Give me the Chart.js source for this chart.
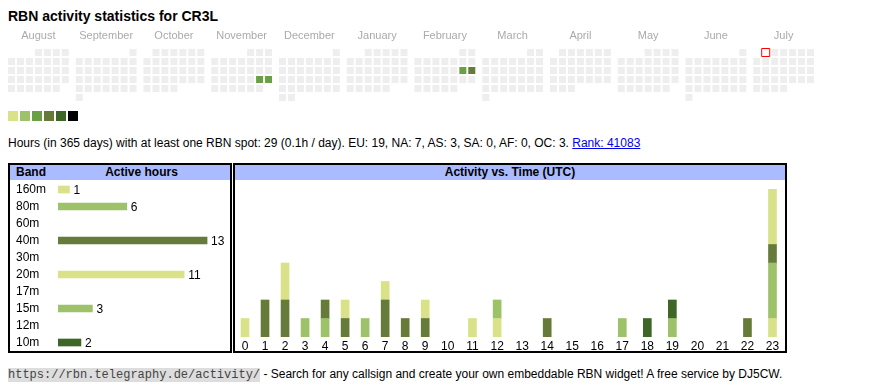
<!DOCTYPE html>
<html>
<head>
<meta charset="utf-8">
<script src="https://cdn.jsdelivr.net/npm/chart.js@4/dist/chart.umd.min.js"></script>
<style>
    body { margin: 0; width: 870px; height: 390px; position: relative; overflow: hidden; background: #fff;
           font-family: "Liberation Sans", Arial, sans-serif; color: #000; }
    #title { position: absolute; left: 8px; top: 8px; font-size: 14px; font-weight: bold; line-height: 16px; }
    #cal { position: absolute; left: 0; top: 25px; }
    #legend { position: absolute; left: 8px; top: 111px; height: 10px; }
    #legend span { float: left; width: 10px; height: 10px; margin-right: 2px; }
    #stats { position: absolute; left: 8px; top: 136px; font-size: 12px; line-height: 14px; white-space: nowrap; }
    #stats a { color: #0000ee; text-decoration: underline; }
    .box { position: absolute; top: 163px; height: 186px; border: 2px solid #000; }
    #bandBox { left: 8px; width: 220px; }
    #hourBox { left: 233px; width: 550px; }
    .hdr { position: relative; height: 15px; background: #aabbff; font-size: 12px; font-weight: bold; line-height: 15px; }
    .hdr span { position: absolute; top: 0; }
    .box canvas { display: block; }
    #footer { position: absolute; left: 8px; top: 367px; font-size: 12px; line-height: 15px; white-space: nowrap; }
    #footer code { font-family: "Liberation Mono", monospace; font-size: 12px; background: #dddddd; color: #444; }
</style>
</head>
<body>
<div id="title">RBN activity statistics for CR3L</div>
<canvas id="cal" width="870" height="80"></canvas>
<div id="legend"></div>
<div id="stats">Hours (in 365 days) with at least one RBN spot: 29 (0.1h / day). EU: 19, NA: 7, AS: 3, SA: 0, AF: 0, OC: 3. <a href="#">Rank: 41083</a></div>
<div class="box" id="bandBox">
    <div class="hdr"><span style="left:6px">Band</span><span style="left:43px;width:177px;text-align:center">Active hours</span></div>
    <canvas id="bandChart" width="220" height="171"></canvas>
</div>
<div class="box" id="hourBox">
    <div class="hdr" style="text-align:center">Activity vs. Time (UTC)</div>
    <canvas id="hourChart" width="550" height="171"></canvas>
</div>
<div id="footer"><code>https://rbn.telegraphy.de/activity/</code> - Search for any callsign and create your own embeddable RBN widget! A free service by DJ5CW.</div>

<script>
// calendar
const monthNames = ["August", "September", "October", "November", "December", "January",
                    "February", "March", "April", "May", "June", "July"];
const firstYear = 2024;
const firstMonth = 7; // August (0-based)
const activeDays = ["2024-11-23", "2024-11-24", "2025-02-15", "2025-02-16"];
const activeDayHours = [7, 7, 6, 9];
const today = "2025-07-01";
const levelColors = ["#d9e288", "#9dc26a", "#6aa044", "#667b3a", "#3d6627", "#000000"];
const levelLimits = [2, 4, 8, 12, 16];

// bands
const bands = ["160m", "80m", "60m", "40m", "30m", "20m", "17m", "15m", "12m", "10m"];
const bandColors = ["#d9e288", "#9dc26a", "#6aa044", "#667b3a", "#3d6627",
                    "#d9e288", "#6aa044", "#9dc26a", "#667b3a", "#3d6627"];

// hours 0..23 UTC, per band
const hourLabels = ["0", "1", "2", "3", "4", "5", "6", "7", "8", "9", "10", "11",
                    "12", "13", "14", "15", "16", "17", "18", "19", "20", "21", "22", "23"];
const hours160 = [0, 0, 0, 0, 0, 0, 0, 0, 0, 0, 0, 0, 0, 0, 0, 0, 0, 0, 0, 0, 0, 0, 0, 1];
const hours80  = [0, 0, 0, 1, 1, 0, 1, 0, 0, 0, 0, 0, 0, 0, 0, 0, 0, 0, 0, 0, 0, 0, 0, 3];
const hours60  = [0, 0, 0, 0, 0, 0, 0, 0, 0, 0, 0, 0, 0, 0, 0, 0, 0, 0, 0, 0, 0, 0, 0, 0];
const hours40  = [0, 2, 2, 0, 1, 1, 0, 2, 1, 1, 0, 0, 0, 0, 1, 0, 0, 0, 0, 0, 0, 0, 1, 1];
const hours30  = [0, 0, 0, 0, 0, 0, 0, 0, 0, 0, 0, 0, 0, 0, 0, 0, 0, 0, 0, 0, 0, 0, 0, 0];
const hours20  = [1, 0, 2, 0, 0, 1, 0, 1, 0, 1, 0, 1, 1, 0, 0, 0, 0, 0, 0, 0, 0, 0, 0, 3];
const hours17  = [0, 0, 0, 0, 0, 0, 0, 0, 0, 0, 0, 0, 0, 0, 0, 0, 0, 0, 0, 0, 0, 0, 0, 0];
const hours15  = [0, 0, 0, 0, 0, 0, 0, 0, 0, 0, 0, 0, 1, 0, 0, 0, 0, 1, 0, 1, 0, 0, 0, 0];
const hours12  = [0, 0, 0, 0, 0, 0, 0, 0, 0, 0, 0, 0, 0, 0, 0, 0, 0, 0, 0, 0, 0, 0, 0, 0];
const hours10  = [0, 0, 0, 0, 0, 0, 0, 0, 0, 0, 0, 0, 0, 0, 0, 0, 0, 0, 1, 1, 0, 0, 0, 0];
const bandHours = [hours160, hours80, hours60, hours40, hours30, hours20, hours17, hours15, hours12, hours10];

const FONT = '"Liberation Sans", Arial, sans-serif';
Chart.defaults.font.family = FONT;
Chart.defaults.animation = false;

// legend swatches
const legendDiv = document.getElementById("legend");
levelColors.forEach(function (c) {
    const s = document.createElement("span");
    s.style.background = c;
    legendDiv.appendChild(s);
});

// ---- calendar (one block of 7 weekday columns per month) ----
const monthStep = 68 / 9; // block width in cell units
function levelColor(h) {
    for (let i = 0; i < levelLimits.length; i++) {
        if (h <= levelLimits[i]) return levelColors[i];
    }
    return levelColors[levelColors.length - 1];
}
function dayKey(y, m, d) {
    return y + "-" + String(m + 1).padStart(2, "0") + "-" + String(d).padStart(2, "0");
}

const cells = [], cellColors = [], todayCell = [];
monthNames.forEach(function (name, mi) {
    const y = firstYear + Math.floor((firstMonth + mi) / 12);
    const m = (firstMonth + mi) % 12;
    const first = (new Date(Date.UTC(y, m, 1)).getUTCDay() + 6) % 7;
    const days = new Date(Date.UTC(y, m + 1, 0)).getUTCDate();
    for (let d = 1; d <= days; d++) {
        const pos = first + d - 1;
        const pt = { x: mi * monthStep + pos % 7, y: Math.floor(pos / 7) };
        const key = dayKey(y, m, d);
        if (key === today) { todayCell.push(pt); continue; }
        const idx = activeDays.indexOf(key);
        cells.push(pt);
        cellColors.push(idx >= 0 ? levelColor(activeDayHours[idx]) : "#eeeeee");
    }
});

const monthLabels = {
    id: "monthLabels",
    afterDraw(chart) {
        const ctx = chart.ctx;
        const xs = chart.scales.x;
        ctx.save();
        ctx.font = "11px " + FONT;
        ctx.fillStyle = "#aaaaaa";
        ctx.textAlign = "center";
        ctx.textBaseline = "middle";
        monthNames.forEach(function (name, mi) {
            ctx.fillText(name, xs.getPixelForValue(mi * monthStep + 3), 11);
        });
        ctx.restore();
    }
};

new Chart(document.getElementById("cal"), {
    type: "scatter",
    data: {
        datasets: [
            { data: todayCell, pointStyle: "rect", pointRadius: 8 / Math.SQRT2, pointBackgroundColor: "#ffffff",
              pointBorderColor: "#ff0000", pointBorderWidth: 1, clip: false },
            { data: cells, pointStyle: "rect", pointRadius: 7 / Math.SQRT2, pointBackgroundColor: cellColors,
              pointBorderWidth: 0, clip: false }
        ]
    },
    options: {
        responsive: false,
        events: [],
        layout: { padding: { left: 11.5, right: 3.5, top: 27.5, bottom: 7.5 } },
        scales: {
            x: { type: "linear", min: 0, max: 95, display: false },
            y: { type: "linear", min: 0, max: 5, reverse: true, display: false }
        },
        plugins: { legend: { display: false }, tooltip: { enabled: false } }
    },
    plugins: [monthLabels]
});

// ---- band table ----
const bandTotals = bandHours.map(arr => arr.reduce((s, v) => s + v, 0));

const valueLabels = {
    id: "valueLabels",
    afterDatasetsDraw(chart) {
        const ctx = chart.ctx;
        const meta = chart.getDatasetMeta(0);
        ctx.save();
        ctx.font = "12px " + FONT;
        ctx.fillStyle = "#000";
        ctx.textBaseline = "middle";
        meta.data.forEach(function (bar, i) {
            const v = bandTotals[i];
            if (v > 0) ctx.fillText(v, bar.x + 4, bar.y + 1);
        });
        ctx.restore();
    }
};

new Chart(document.getElementById("bandChart"), {
    type: "bar",
    data: {
        labels: bands,
        datasets: [{ data: bandTotals.map(v => v || null), backgroundColor: bandColors, barThickness: 7, borderWidth: 0 }]
    },
    options: {
        indexAxis: "y",
        responsive: false,
        events: [],
        layout: { padding: { left: 6, right: 0, top: 1, bottom: 0 } },
        scales: {
            x: { min: 0, max: 15, display: false },
            y: {
                grid: { display: false, drawTicks: false },
                border: { display: false },
                ticks: { color: "#000", font: { size: 12 }, crossAlign: "far", padding: 0, autoSkip: false },
                afterFit(scale) {
                    scale.width = 42;
                    scale.paddingTop = 0;
                    scale.paddingBottom = 0;
                }
            }
        },
        plugins: { legend: { display: false }, tooltip: { enabled: false } }
    },
    plugins: [valueLabels]
});

// ---- activity vs. time ----
// columns sized like an auto table: label width plus cell padding
const mctx = document.createElement("canvas").getContext("2d");
mctx.font = "12px " + FONT;
const colW = hourLabels.map(l => mctx.measureText(l).width + 20);
const colScale = 550 / colW.reduce((a, b) => a + b, 0);
let acc = 0;
const hourCenters = colW.map(function (w) {
    const c = acc + w * colScale / 2;
    acc += w * colScale;
    return c;
});

new Chart(document.getElementById("hourChart"), {
    type: "bar",
    data: {
        datasets: bands.map(function (b, bi) {
            return {
                label: b,
                data: bandHours[bi].map((v, i) => ({ x: hourCenters[i], y: v || null })),
                backgroundColor: bandColors[bi],
                barThickness: 8,
                borderWidth: 0
            };
        })
    },
    options: {
        responsive: false,
        events: [],
        layout: { padding: { left: 0, right: 0, top: 9, bottom: 0 } },
        scales: {
            x: {
                type: "linear", min: 0, max: 550, stacked: true, offset: false,
                grid: { display: false, drawTicks: false },
                border: { display: false },
                afterBuildTicks(scale) { scale.ticks = hourCenters.map(v => ({ value: v })); },
                afterFit(scale) {
                    scale.height = 14;
                    scale.paddingLeft = 0;
                    scale.paddingRight = 0;
                },
                ticks: {
                    autoSkip: false, maxRotation: 0, padding: 2, color: "#000", font: { size: 12 },
                    callback: (v, i) => hourLabels[i]
                }
            },
            y: { min: 0, max: 8, stacked: true, display: false }
        },
        plugins: { legend: { display: false }, tooltip: { enabled: false } }
    }
});
</script>
</body>
</html>
